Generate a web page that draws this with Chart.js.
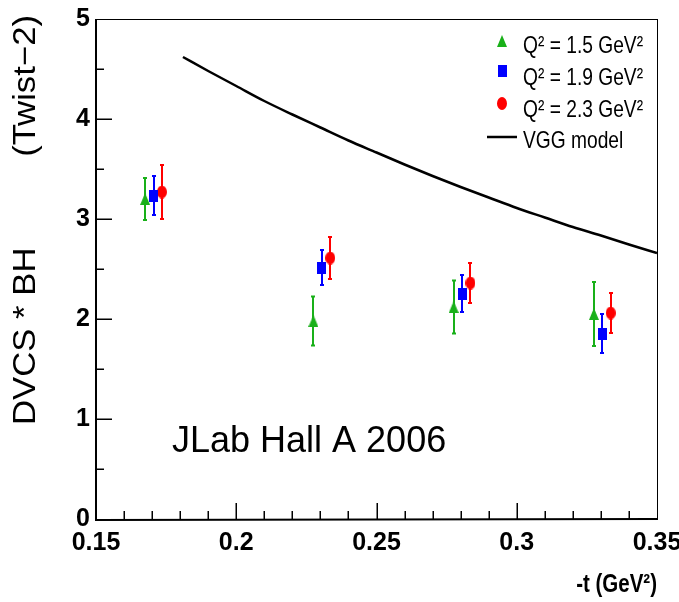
<!DOCTYPE html>
<html><head><meta charset="utf-8">
<script src="https://cdn.jsdelivr.net/npm/chart.js@4"></script>
<style>html,body{margin:0;padding:0;background:#fff;} #wrap{width:679px;height:602px;}</style>
</head><body><div id="wrap"><canvas id="c" width="679" height="602"></canvas></div>
<script>
// ---- data ----
const tQ15  = [0.1675, 0.2275, 0.2775, 0.3275];
const valQ15 = [3.20, 1.98, 2.12, 2.05];
const errQ15 = [0.21, 0.245, 0.265, 0.32];

const tQ19  = [0.1705, 0.2305, 0.2805, 0.3305];
const valQ19 = [3.235, 2.515, 2.255, 1.855];
const errQ19 = [0.195, 0.175, 0.185, 0.195];

const tQ23  = [0.1735, 0.2335, 0.2835, 0.3335];
const valQ23 = [3.27, 2.61, 2.36, 2.06];
const errQ23 = [0.27, 0.21, 0.20, 0.20];

const vggT   = [0.181, 0.19, 0.20, 0.21, 0.22, 0.23, 0.24, 0.25, 0.26, 0.27, 0.28, 0.29, 0.30, 0.31, 0.32, 0.33, 0.34, 0.35];
const vggVal = [4.62, 4.48, 4.33, 4.18, 4.045, 3.915, 3.785, 3.665, 3.545, 3.43, 3.32, 3.215, 3.11, 3.015, 2.92, 2.835, 2.745, 2.66];

const xTickVals   = [0.15, 0.2, 0.25, 0.3, 0.35];
const xTickLabels = ['0.15', '0.2', '0.25', '0.3', '0.35'];
const yTickVals   = [0, 1, 2, 3, 4, 5];
const yTickLabels = ['0', '1', '2', '3', '4', '5'];

const seriesLabels = ['Q\u00B2 = 1.5 GeV\u00B2', 'Q\u00B2 = 1.9 GeV\u00B2', 'Q\u00B2 = 2.3 GeV\u00B2', 'VGG model'];

// ---- styles ----
const GREEN = '#19b019', BLUE = '#0000ff', RED = '#ff0000';
const SANS = "'Liberation Sans', Arial, Helvetica, sans-serif";

function makeMarker(shape, w, h, color) {
  const c = document.createElement('canvas');
  c.width = w; c.height = h;
  const g = c.getContext('2d');
  g.fillStyle = color;
  g.beginPath();
  if (shape === 'tri') { g.moveTo(w / 2, 0); g.lineTo(w, h); g.lineTo(0, h); g.closePath(); }
  else if (shape === 'rect') { g.rect(0, 0, w, h); }
  else { g.ellipse(w / 2, h / 2, w / 2, h / 2, 0, 0, Math.PI * 2); }
  g.fill();
  return c;
}
const mkTri = makeMarker('tri', 10, 12, GREEN);
const mkRect = makeMarker('rect', 9, 12, BLUE);
const mkEll = makeMarker('ell', 10, 13, RED);

const pts = (xs, ys) => xs.map((t, i) => ({ x: t, y: ys[i] }));

function textScaled(ctx, text, x, y, sx) {
  ctx.save();
  ctx.translate(x, y);
  ctx.scale(sx, 1);
  ctx.fillText(text, 0, 0);
  ctx.restore();
}

const decor = {
  id: 'decor',
  beforeDatasetsDraw(chart) {
    const { ctx, scales: { x, y } } = chart;
    ctx.save();
    chart.data.datasets.forEach(ds => {
      if (!ds.errors) return;
      ctx.strokeStyle = ds.errColor;
      ctx.lineWidth = 2;
      ds.data.forEach((p, i) => {
        const px = Math.round(x.getPixelForValue(p.x));
        const yTop = y.getPixelForValue(p.y + ds.errors[i]);
        const yBot = y.getPixelForValue(p.y - ds.errors[i]);
        ctx.beginPath();
        ctx.moveTo(px, yBot); ctx.lineTo(px, yTop);
        ctx.moveTo(px - 2, yBot); ctx.lineTo(px + 2, yBot);
        ctx.moveTo(px - 2, yTop); ctx.lineTo(px + 2, yTop);
        ctx.stroke();
      });
    });
    ctx.restore();
  },
  afterDraw(chart) {
    const { ctx, chartArea: a, scales: { x, y } } = chart;
    ctx.save();
    // frame
    ctx.strokeStyle = '#000';
    ctx.lineWidth = 1;
    ctx.strokeRect(a.left + 0.5, a.top + 0.5, a.right - a.left, a.bottom - a.top);
    ctx.lineWidth = 2;
    ctx.beginPath();
    ctx.moveTo(a.left, a.top); ctx.lineTo(a.left, a.bottom + 1); ctx.lineTo(a.right + 1, a.bottom);
    ctx.stroke();
    // inner ticks
    ctx.lineWidth = 1.5;
    ctx.beginPath();
    for (let k = 1; k < 10; k++) {
      const v = k / 2;
      const py = Math.round(y.getPixelForValue(v)) + 0.25;
      const len = (k % 2 === 0) ? 16 : 8;
      ctx.moveTo(a.left, py); ctx.lineTo(a.left + len, py);
    }
    for (let k = 16; k < 35; k++) {
      const v = k / 100;
      const px = Math.round(x.getPixelForValue(v)) + 0.25;
      const len = (k % 5 === 0) ? 16 : 8;
      ctx.moveTo(px, a.bottom); ctx.lineTo(px, a.bottom - len);
    }
    ctx.stroke();

    // y title
    ctx.fillStyle = '#000';
    ctx.save();
    ctx.translate(35, 425);
    ctx.rotate(-Math.PI / 2);
    ctx.scale(1.12, 1);
    ctx.font = '31px ' + SANS;
    ctx.textBaseline = 'alphabetic';
    ctx.textAlign = 'left';
    ctx.fillText('DVCS * BH', 0, 0);
    ctx.textAlign = 'right';
    ctx.fillText('(Twist\u22122)', 410 / 1.12, 0);
    ctx.restore();

    // x title
    ctx.font = 'bold 25px ' + SANS;
    ctx.textAlign = 'right';
    ctx.textBaseline = 'alphabetic';
    textScaled(ctx, '-t (GeV\u00B2)', a.right, 592, 0.82);

    // annotation
    ctx.font = '36px ' + SANS;
    ctx.textAlign = 'left';
    ctx.fillText('JLab Hall A 2006', 172, 452);

    // legend
    const rows = [
      { img: mkTri, my: 41, ty: 53 },
      { img: mkRect, my: 71, ty: 85 },
      { img: mkEll, my: 103, ty: 117 },
      { line: true, my: 137, ty: 148 }
    ];
    ctx.font = '24px ' + SANS;
    rows.forEach((r, i) => {
      if (r.line) {
        ctx.strokeStyle = '#000'; ctx.lineWidth = 2.5;
        ctx.beginPath(); ctx.moveTo(487, r.my); ctx.lineTo(517, r.my); ctx.stroke();
      } else {
        ctx.drawImage(r.img, Math.round(502 - r.img.width / 2), Math.round(r.my - r.img.height / 2));
      }
      textScaled(ctx, seriesLabels[i], 523, r.ty, 0.8);
    });
    ctx.restore();
  }
};

new Chart(document.getElementById('c'), {
  type: 'scatter',
  data: {
    datasets: [
      { label: seriesLabels[3], data: pts(vggT, vggVal), showLine: true, borderColor: '#000', borderWidth: 2.5,
        pointRadius: 0, cubicInterpolationMode: 'monotone', fill: false },
      { label: seriesLabels[0], data: pts(tQ15, valQ15), errors: errQ15, errColor: GREEN, pointStyle: mkTri, pointRadius: 6 },
      { label: seriesLabels[1], data: pts(tQ19, valQ19), errors: errQ19, errColor: BLUE, pointStyle: mkRect, pointRadius: 6 },
      { label: seriesLabels[2], data: pts(tQ23, valQ23), errors: errQ23, errColor: RED, pointStyle: mkEll, pointRadius: 6 }
    ]
  },
  options: {
    responsive: false,
    animation: false,
    events: [],
    devicePixelRatio: 1,
    layout: { padding: { left: 0, right: 22, top: 19, bottom: 0 } },
    plugins: { legend: { display: false }, tooltip: { enabled: false } },
    scales: {
      x: {
        type: 'linear', min: 0.15, max: 0.35,
        afterBuildTicks: s => { s.ticks = xTickVals.map(v => ({ value: v })); },
        afterFit: s => { s.height = 83; s.paddingLeft = 0; s.paddingRight = 0; },
        grid: { display: false, drawTicks: false },
        border: { display: false },
        ticks: { callback: (v, i) => xTickLabels[i], maxRotation: 0, autoSkip: false, padding: 9,
                 color: '#000', font: { family: SANS, size: 25, weight: 'bold' } }
      },
      y: {
        type: 'linear', min: 0, max: 5,
        afterBuildTicks: s => { s.ticks = yTickVals.map(v => ({ value: v })); },
        afterFit: s => { s.width = 96; s.paddingTop = 0; s.paddingBottom = 0; },
        grid: { display: false, drawTicks: false },
        border: { display: false },
        ticks: { callback: (v, i) => yTickLabels[i], autoSkip: false, padding: 6,
                 color: '#000', font: { family: SANS, size: 25, weight: 'bold' } }
      }
    }
  },
  plugins: [decor]
});
</script>
</body></html>
